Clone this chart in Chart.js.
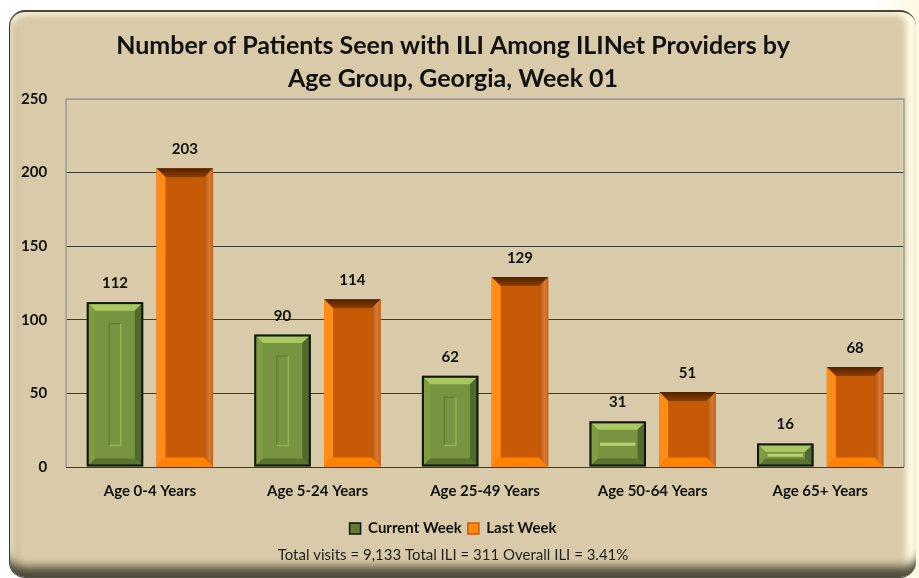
<!DOCTYPE html>
<html>
<head>
<meta charset="utf-8">
<script src="https://cdn.jsdelivr.net/npm/chart.js@4"></script>
<style>
  html, body { margin: 0; padding: 0; background: #ffffff; }
  #wrap { position: relative; width: 919px; height: 578px; overflow: hidden;
          background: linear-gradient(90deg, #ffffff 0%, #ffffff 95%, #fff9e3 100%); }
  #frame { position: absolute; left: 9px; top: 10px; width: 906px; height: 565px;
           border-radius: 16px; background: #d9caa9;
           border-left: 1px solid #3a3a30; border-top: 2px solid #4a4638; border-bottom: 1px solid #555;
           box-shadow: inset 0 -16px 10px -6px rgba(70,66,50,0.95),
                       inset -13px 0 6px -3px #fffbe4,
                       inset 4px 4px 5px rgba(255,250,225,0.7),
                       inset 8px 0 8px -4px rgba(120,110,80,0.35); }
  canvas { position: absolute; left: 0; top: 0; }
</style>
</head>
<body>
<div id="wrap">
  <div id="frame"></div>
  <canvas id="myChart" width="919" height="578"></canvas>
</div>
<script>
const categories = ['Age 0-4 Years', 'Age 5-24 Years', 'Age 25-49 Years', 'Age 50-64 Years', 'Age 65+ Years'];
const currentWeek = [112, 90, 62, 31, 16];
const lastWeek = [203, 114, 129, 51, 68];
const yTicks = [0, 50, 100, 150, 200, 250];

const FONT = 'Lato, "Open Sans", sans-serif';

// bevel look for the bars, drawn over the library's own bar elements
function trap(c, pts, fill) {
  c.beginPath();
  c.moveTo(pts[0][0], pts[0][1]);
  for (let i = 1; i < pts.length; i++) c.lineTo(pts[i][0], pts[i][1]);
  c.closePath();
  c.fillStyle = fill;
  c.fill();
}

const bevelPlugin = {
  id: 'bevel',
  afterDatasetsDraw(chart) {
    const c = chart.ctx;
    chart.data.datasets.forEach((ds, di) => {
      const meta = chart.getDatasetMeta(di);
      meta.data.forEach(el => {
        const p = el.getProps(['x', 'y', 'base', 'width'], true);
        let l = p.x - p.width / 2, r = p.x + p.width / 2, t = p.y, b = p.base;
        const green = di === 0;
        if (green) { l += 1.5; r -= 1.5; t += 1.5; b -= 1; }
        const h = b - t;
        const s = Math.min(green ? 7 : 9, h / 2.6);
        c.save();
        if (green) {
          trap(c, [[l, t], [r, t], [r - s, t + s], [l + s, t + s]], '#a9c862');
          trap(c, [[l, t], [l + s, t + s], [l + s, b - s], [l, b]], '#7f9d40');
          trap(c, [[r, t], [r - s, t + s], [r - s, b - s], [r, b]], '#51692a');
          trap(c, [[l, b], [l + s, b - s], [r - s, b - s], [r, b]], '#5a742f');
          const ix = 21, iy = 20;
          if (h > 2 * iy + 6) {
            c.lineWidth = 1.5;
            c.strokeStyle = '#63802f';
            c.beginPath();
            c.moveTo(l + ix, b - iy); c.lineTo(l + ix, t + iy); c.lineTo(r - ix, t + iy);
            c.stroke();
            c.strokeStyle = '#93b251';
            c.beginPath();
            c.moveTo(r - ix, t + iy); c.lineTo(r - ix, b - iy); c.lineTo(l + ix, b - iy);
            c.stroke();
          } else {
            c.fillStyle = '#b7d474';
            c.fillRect(l + s + 2, t + h / 2 - 1.5, r - l - 2 * s - 4, 3);
          }
          c.lineWidth = 2;
          c.strokeStyle = '#111';
          c.strokeRect(l - 0.5, t - 0.5, r - l + 1, b - t + 0.5);
        } else {
          const gt = c.createLinearGradient(0, t, 0, t + s);
          gt.addColorStop(0, '#4e2200');
          gt.addColorStop(1, '#8c3d02');
          trap(c, [[l, t], [r, t], [r - s, t + s], [l + s, t + s]], gt);
          trap(c, [[l, t], [l + s, t + s], [l + s, b - s], [l, b]], '#ff8c16');
          const gr = c.createLinearGradient(r - s, 0, r, 0);
          gr.addColorStop(0, '#b5540c');
          gr.addColorStop(0.6, '#d87a30');
          gr.addColorStop(1, '#c0621c');
          trap(c, [[r, t], [r - s, t + s], [r - s, b - s], [r, b]], gr);
          trap(c, [[l, b], [l + s, b - s], [r - s, b - s], [r, b]], '#ff8200');
        }
        c.restore();
      });
    });
  }
};

const valueLabels = {
  id: 'valueLabels',
  afterDatasetsDraw(chart) {
    const c = chart.ctx;
    c.save();
    c.font = 'bold 15px ' + FONT;
    c.fillStyle = '#111';
    c.textAlign = 'center';
    c.textBaseline = 'alphabetic';
    chart.data.datasets.forEach((ds, di) => {
      chart.getDatasetMeta(di).data.forEach((el, i) => {
        c.fillText(ds.data[i], el.x, el.y - 14);
      });
    });
    c.restore();
  }
};

const plotBorder = {
  id: 'plotBorder',
  beforeDatasetsDraw(chart) {
    const a = chart.chartArea, c = chart.ctx;
    c.save();
    c.strokeStyle = '#9a9a9a';
    c.lineWidth = 1.5;
    c.beginPath();
    c.moveTo(a.left, a.bottom); c.lineTo(a.left, a.top); c.lineTo(a.right, a.top); c.lineTo(a.right, a.bottom);
    c.stroke();
    c.restore();
  }
};

const ctx = document.getElementById('myChart');

new Chart(ctx, {
  type: 'bar',
  data: {
    labels: categories,
    datasets: [
      {
        label: 'Current Week',
        data: currentWeek,
        backgroundColor: '#779540',
        borderColor: '#111',
        borderWidth: 0,
        categoryPercentage: 0.833,
        barPercentage: 0.81,
      },
      {
        label: 'Last Week',
        data: lastWeek,
        backgroundColor: '#c65a06',
        borderWidth: 0,
        categoryPercentage: 0.833,
        barPercentage: 0.81,
      },
    ],
  },
  options: {
    responsive: false,
    animation: false,
    layout: { padding: { top: 14, left: 2, right: 15, bottom: 10 } },
    scales: {
      x: {
        grid: { display: false, drawTicks: false },
        border: { display: false },
        ticks: { color: '#111', font: { family: FONT, size: 15, weight: 'bold' }, padding: 15 },
      },
      y: {
        min: 0,
        max: 250,
        afterBuildTicks(scale) { scale.ticks = yTicks.map(v => ({ value: v })); },
        grid: {
          drawTicks: false,
          color: c => (c.tick && c.tick.value === 250 ? '#9a9a9a' : '#3c3a34'),
          lineWidth: 1,
        },
        border: { display: false },
        ticks: { color: '#111', font: { family: FONT, size: 15, weight: 'bold' }, padding: 19 },
      },
    },
    plugins: {
      title: {
        display: true,
        text: ['Number of Patients Seen with ILI Among ILINet Providers by', 'Age Group, Georgia, Week 01'],
        color: '#111',
        font: { family: FONT, size: 25, weight: 'bold', lineHeight: 1.3 },
        padding: { top: 16, bottom: 4 },
      },
      subtitle: {
        display: true,
        position: 'bottom',
        text: 'Total visits = 9,133 Total ILI = 311 Overall ILI = 3.41%',
        color: '#222',
        font: { family: FONT, size: 15 },
        padding: { top: 0, bottom: 4 },
      },
      legend: {
        position: 'bottom',
        labels: {
          color: '#111',
          font: { family: FONT, size: 15, weight: 'bold' },
          boxWidth: 11,
          boxHeight: 11,
          padding: 6,
          generateLabels(chart) {
            return chart.data.datasets.map((ds, i) => ({
              text: ds.label,
              fillStyle: i === 0 ? '#5f7f2c' : '#ff8a10',
              strokeStyle: i === 0 ? '#111' : '#c65a06',
              lineWidth: 1.5,
              fontColor: '#111',
              datasetIndex: i,
            }));
          },
        },
      },
      tooltip: { enabled: false },
    },
  },
  plugins: [plotBorder, bevelPlugin, valueLabels],
});
</script>
</body>
</html>
